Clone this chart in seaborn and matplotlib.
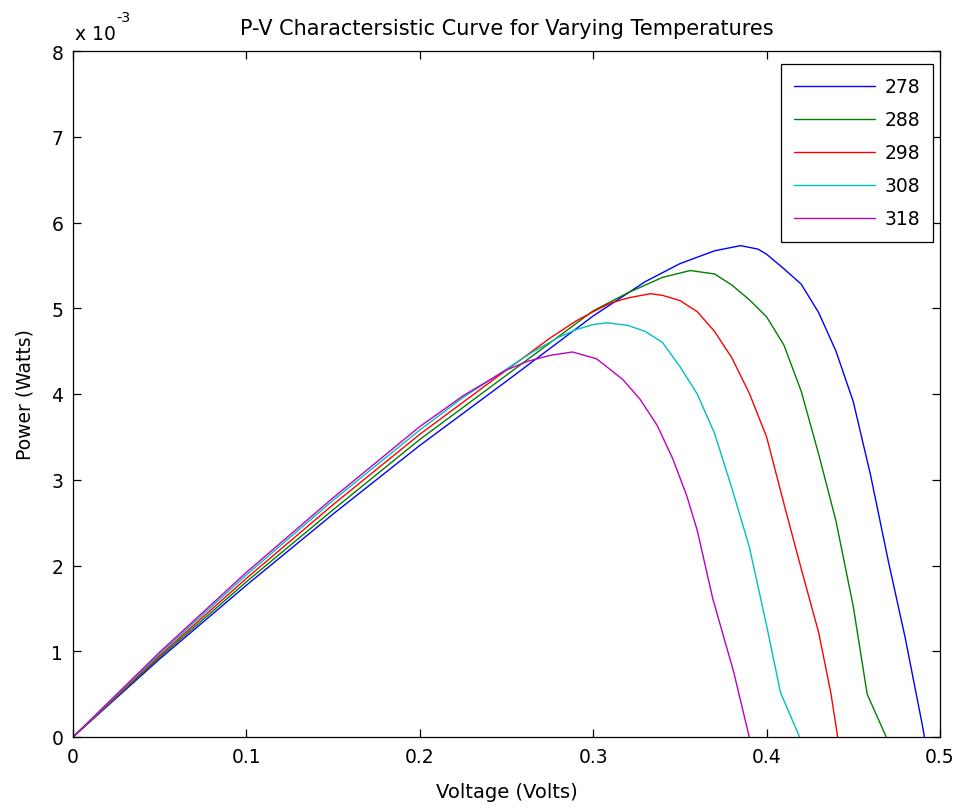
import numpy as np
import pandas as pd
import matplotlib
matplotlib.use("Agg")
import matplotlib.pyplot as plt
import seaborn as sns

# ---- data (power in milliwatts) ----
temps = ["278", "288", "298", "308", "318"]

v_278 = [0, 0.05, 0.10, 0.15, 0.20, 0.25, 0.30, 0.33, 0.35, 0.37, 0.385, 0.395, 0.40, 0.41, 0.42, 0.43, 0.44, 0.45, 0.46, 0.47, 0.48, 0.49, 0.491]
p_278 = [0, 0.91, 1.77, 2.60, 3.40, 4.15, 4.91, 5.31, 5.52, 5.67, 5.73, 5.69, 5.63, 5.46, 5.28, 4.95, 4.50, 3.91, 3.05, 2.07, 1.15, 0.12, 0.0]

v_288 = [0, 0.05, 0.10, 0.15, 0.20, 0.25, 0.30, 0.32, 0.34, 0.356, 0.37, 0.38, 0.39, 0.40, 0.41, 0.42, 0.43, 0.44, 0.45, 0.458, 0.469]
p_288 = [0, 0.93, 1.81, 2.65, 3.47, 4.22, 4.97, 5.18, 5.36, 5.44, 5.40, 5.27, 5.10, 4.90, 4.57, 4.03, 3.30, 2.52, 1.52, 0.50, 0.0]

v_298 = [0, 0.05, 0.10, 0.15, 0.20, 0.25, 0.275, 0.29, 0.30, 0.31, 0.32, 0.333, 0.34, 0.35, 0.36, 0.37, 0.38, 0.39, 0.40, 0.41, 0.42, 0.43, 0.437, 0.441]
p_298 = [0, 0.95, 1.85, 2.71, 3.53, 4.28, 4.65, 4.85, 4.96, 5.06, 5.12, 5.17, 5.15, 5.09, 4.96, 4.73, 4.42, 4.01, 3.50, 2.72, 1.96, 1.22, 0.52, 0.0]

v_308 = [0, 0.05, 0.10, 0.15, 0.20, 0.225, 0.25, 0.265, 0.28, 0.29, 0.30, 0.308, 0.32, 0.33, 0.34, 0.35, 0.36, 0.37, 0.38, 0.39, 0.40, 0.408, 0.419]
p_308 = [0, 0.97, 1.89, 2.76, 3.58, 3.96, 4.29, 4.49, 4.66, 4.75, 4.81, 4.83, 4.80, 4.73, 4.60, 4.32, 4.00, 3.54, 2.90, 2.22, 1.30, 0.52, 0.0]

v_318 = [0, 0.05, 0.10, 0.15, 0.20, 0.225, 0.25, 0.262, 0.275, 0.288, 0.302, 0.317, 0.327, 0.337, 0.346, 0.354, 0.36, 0.369, 0.381, 0.39]
p_318 = [0, 0.99, 1.92, 2.79, 3.62, 3.98, 4.28, 4.38, 4.45, 4.49, 4.41, 4.17, 3.94, 3.63, 3.24, 2.81, 2.41, 1.61, 0.76, 0.0]

series_v = [v_278, v_288, v_298, v_308, v_318]
series_p = [p_278, p_288, p_298, p_308, p_318]

x_ticks = [0, 0.1, 0.2, 0.3, 0.4, 0.5]
y_ticks_mw = [0, 1, 2, 3, 4, 5, 6, 7, 8]

colors = ["#0000ff", "#008000", "#ff0000", "#00bfbf", "#bf00bf"]

rows = []
for t, vs, ps in zip(temps, series_v, series_p):
    for v, p in zip(vs, ps):
        rows.append({"Voltage": v, "Power": p * 1e-3, "T": t})
df = pd.DataFrame(rows)

sns.set_style("ticks")
plt.rcParams["font.family"] = ["DejaVu Sans"]
plt.rcParams["axes.linewidth"] = 0.9
plt.rcParams["text.color"] = "black"
plt.rcParams["axes.labelcolor"] = "black"

FS = 13.5
fig = plt.figure(figsize=(9.6, 8.12), dpi=100)
ax = fig.add_axes([73 / 960, 74 / 812, 867 / 960, 686 / 812])

sns.lineplot(data=df, x="Voltage", y="Power", hue="T", hue_order=temps,
             palette=colors, sort=False, estimator=None, linewidth=1.0,
             legend=False, ax=ax)

ax.set_xlim(0, 0.5)
ax.set_ylim(0, 8e-3)
ax.set_xticks(x_ticks)
ax.set_xticklabels([f"{t:g}" for t in x_ticks])
ax.set_yticks([y * 1e-3 for y in y_ticks_mw])
ax.set_yticklabels([str(y) for y in y_ticks_mw])

for s in ax.spines.values():
    s.set_visible(True)
    s.set_color("black")
ax.tick_params(direction="in", length=6, width=0.9, top=True, right=True,
               labelsize=FS, colors="black", labelcolor="black")
ax.tick_params(axis="x", pad=7)
ax.tick_params(axis="y", pad=7)

ax.set_xlabel("Voltage (Volts)", fontsize=FS + 0.5, labelpad=12, color="black")
ax.set_ylabel("Power (Watts)", fontsize=FS, labelpad=12, color="black")
ax.set_title("P-V Charactersistic Curve for Varying Temperatures",
             fontsize=FS + 1.5, pad=12, color="black")

fig.text(75 / 960, 1 - 40 / 812, "x 10", fontsize=FS, va="baseline", ha="left")
fig.text(116 / 960, 1 - 22 / 812, "-3", fontsize=FS * 0.75, va="baseline", ha="left")

leg = ax.legend(ax.lines[:5], temps, loc="upper right",
                bbox_to_anchor=((933 - 73) / 867, (738 - 65) / 686),
                borderaxespad=0, fontsize=FS, handlelength=4.3,
                handletextpad=0.5, labelspacing=0.75, borderpad=0.7,
                fancybox=False, framealpha=1, edgecolor="black")
leg.get_frame().set_linewidth(0.9)

fig.savefig("out.png", dpi=100, facecolor="white")
